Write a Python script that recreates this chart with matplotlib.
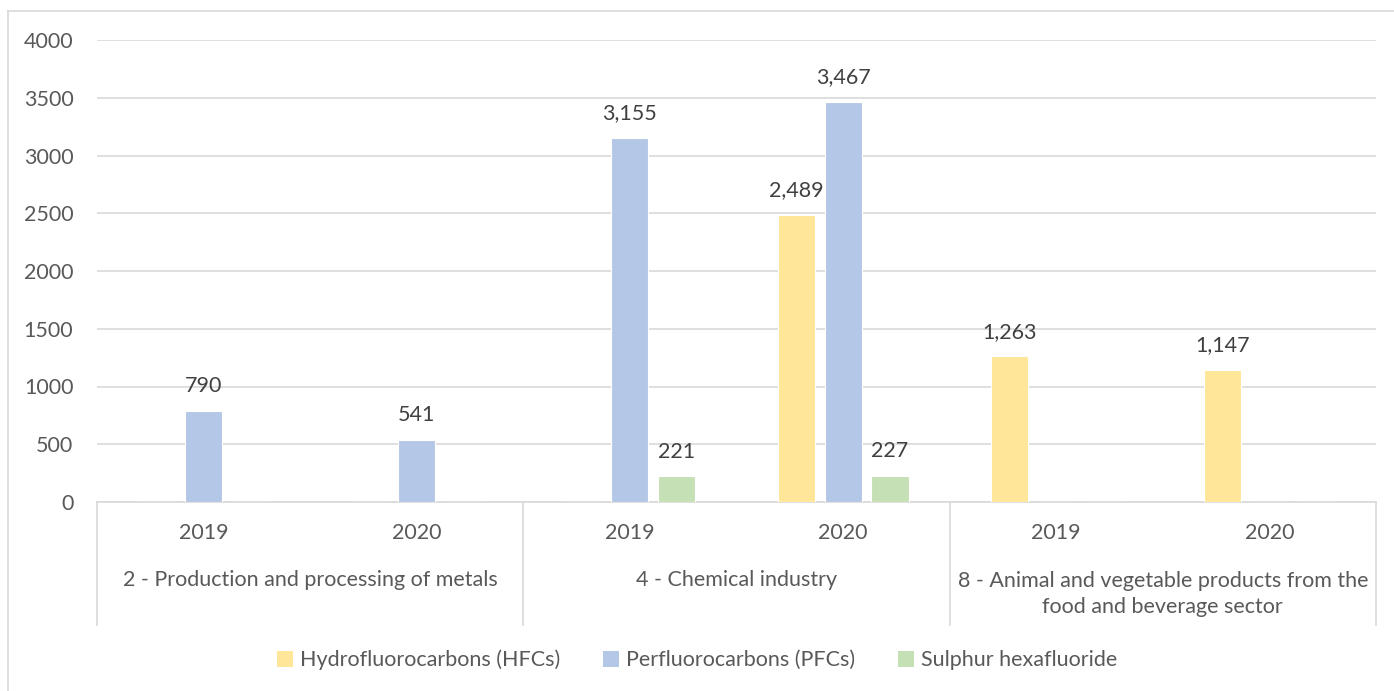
import numpy as np
import matplotlib.pyplot as plt
from matplotlib.lines import Line2D
from matplotlib.patches import Patch

plt.rcParams['font.family'] = ['Lato', 'DejaVu Sans']

years = ['2019', '2020', '2019', '2020', '2019', '2020']
sectors = ['2 - Production and processing of metals',
           '4 - Chemical industry',
           '8 - Animal and vegetable products from the\nfood and beverage sector']
series = ['Hydrofluorocarbons (HFCs)', 'Perfluorocarbons (PFCs)', 'Sulphur hexafluoride']
hfc = [0, 0, 0, 2489, 1263, 1147]
pfc = [790, 541, 3155, 3467, 0, 0]
sf6 = [0, 0, 221, 227, 0, 0]
colors = ['#FFE699', '#B4C7E7', '#C5E0B4']

fs = 15.5
fig = plt.figure(figsize=(13.94, 6.91), dpi=100)
ax = fig.add_axes([97 / 1394, 1 - 502 / 691, 1279 / 1394, 462 / 691])

x = np.arange(len(years))
w = 0.174
off = 0.22
for i, (vals, c) in enumerate(zip([hfc, pfc, sf6], colors)):
    xs = x + (i - 1) * off
    ax.bar(xs, vals, width=w, color=c, edgecolor='white', linewidth=0.8, zorder=3)
    for xi, v in zip(xs, vals):
        if v > 0:
            ax.text(xi, v + 125, f'{v:,}', ha='center', va='bottom',
                    fontsize=fs, color='#404040')

ax.set_xlim(-0.5, 5.5)
ax.set_ylim(0, 4000)
ax.set_yticks(np.arange(0, 4001, 500))
ax.tick_params(axis='y', length=0, labelsize=fs, labelcolor='#595959', pad=17)
ax.set_xticks([])
ax.grid(axis='y', color='#D9D9D9', linewidth=1.2, zorder=0)
for s in ['top', 'right', 'left']:
    ax.spines[s].set_visible(False)
ax.spines['bottom'].set_color('#D9D9D9')
ax.spines['bottom'].set_linewidth(1.2)

tr = ax.get_xaxis_transform()
for xi, y in zip(x, years):
    ax.text(xi, -0.067, y, transform=tr, ha='center', va='center',
            fontsize=fs, color='#595959')
for k, name in enumerate(sectors):
    yy = -0.199 if '\n' in name else -0.169
    ax.text(2 * k + 0.5, yy, name, transform=tr, ha='center', va='center',
            fontsize=fs, color='#595959', linespacing=1.4)
for sx in [-0.5, 1.5, 3.5, 5.5]:
    ax.add_line(Line2D([sx, sx], [0, -0.266], transform=tr, color='#D9D9D9',
                       linewidth=1.2, clip_on=False))

handles = [Patch(facecolor=c, edgecolor='none') for c in colors]
fig.legend(handles, series, loc='center', bbox_to_anchor=(0.5, 1 - 660 / 691),
           ncol=3, frameon=False, fontsize=fs, handlelength=0.75, handleheight=0.75,
           handletextpad=0.3, columnspacing=2.0, labelcolor='#595959')

# outer chart border (only top and left visible)
fig.add_artist(Line2D([8 / 1394, 8 / 1394], [0, 1 - 11 / 691], transform=fig.transFigure,
                      color='#D9D9D9', linewidth=1.2))
fig.add_artist(Line2D([8 / 1394, 1], [1 - 11 / 691, 1 - 11 / 691], transform=fig.transFigure,
                      color='#D9D9D9', linewidth=1.2))

fig.savefig('out.png', dpi=100)
